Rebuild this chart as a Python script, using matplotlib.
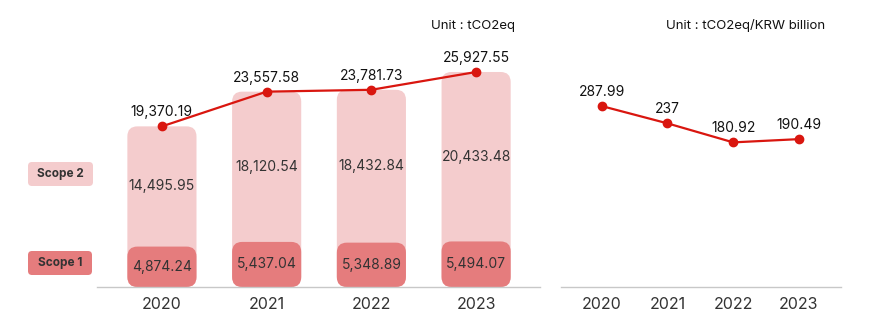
import matplotlib
matplotlib.use("Agg")
import matplotlib.pyplot as plt
from matplotlib.patches import FancyBboxPatch

plt.rcParams['font.family'] = ['Inter', 'DejaVu Sans']

years = ['2020', '2021', '2022', '2023']
scope1 = [4874.24, 5437.04, 5348.89, 5494.07]
scope2 = [14495.95, 18120.54, 18432.84, 20433.48]
totals = [19370.19, 23557.58, 23781.73, 25927.55]
intensity = [287.99, 237, 180.92, 190.49]
intensity_labels = ['287.99', '237', '180.92', '190.49']

C_S2 = '#F4CCCD'
C_S1 = '#E57C7D'
C_LINE = '#D9160F'
C_TXT = '#333333'
C_AX = '#C8C8C8'

W, H = 870, 333
fig = plt.figure(figsize=(W / 100, H / 100), dpi=100)

def px_axes(x0, x1, ytop, ybot):
    return fig.add_axes([x0 / W, (H - ybot) / H, (x1 - x0) / W, (ybot - ytop) / H])

ax1 = px_axes(97, 540, 40, 287)
ax2 = px_axes(561, 841, 40, 287)

for ax in (ax1, ax2):
    for s in ('top', 'right', 'left'):
        ax.spines[s].set_visible(False)
    ax.spines['bottom'].set_color(C_AX)
    ax.spines['bottom'].set_linewidth(1.0)
    ax.set_yticks([])
    ax.tick_params(axis='x', length=0, pad=7, labelsize=11.5, labelcolor=C_TXT)

x = list(range(len(years)))

# ---- left chart ----
ax1.set_xlim(-0.62, 3.61)
ax1.set_ylim(0, 29786)
bw = 0.66
bars_tot = ax1.bar(x, totals, width=bw, color=C_S2)
bars_s1 = ax1.bar(x, scope1, width=bw, color=C_S1)

def round_bars(ax, bars, color, radius_px=10):
    fig.canvas.draw()
    inv = ax.transData.inverted()
    p0 = inv.transform((0, 0))
    p1 = inv.transform((1, 1))
    dx_per_px = p1[0] - p0[0]
    dy_per_px = p1[1] - p0[1]
    aspect = dy_per_px / dx_per_px
    for b in bars:
        b.set_visible(False)
        xx, yy = b.get_x(), b.get_y()
        ww, hh = b.get_width(), b.get_height()
        patch = FancyBboxPatch((xx, yy), ww, hh,
                               boxstyle=f"round,pad=0,rounding_size={radius_px * dx_per_px}",
                               mutation_aspect=aspect, fc=color, ec='none', zorder=2)
        ax.add_patch(patch)

round_bars(ax1, bars_tot, C_S2)
round_bars(ax1, bars_s1, C_S1)

for i in x:
    ax1.text(i, scope1[i] / 2, f"{scope1[i]:,.2f}", ha='center', va='center',
             fontsize=10, color=C_TXT, zorder=4)
    ax1.text(i, scope1[i] + scope2[i] / 2, f"{scope2[i]:,.2f}", ha='center', va='center',
             fontsize=10, color=C_TXT, zorder=4)

ax1.plot(x, totals, color=C_LINE, lw=1.6, marker='o', ms=6, zorder=5, clip_on=False)
for i in x:
    ax1.annotate(f"{totals[i]:,.2f}", (i, totals[i]), xytext=(0, 5), textcoords='offset points',
                 ha='center', va='bottom', fontsize=10, color='#111111', zorder=6)

ax1.set_xticks(x)
ax1.set_xticklabels(years)

# ---- right chart ----
ax2.set_xlim(-0.62, 3.64)
ax2.set_ylim(-245.7, 482.9)
ax2.plot(x, intensity, color=C_LINE, lw=1.6, marker='o', ms=6, zorder=5, clip_on=False)
for i in x:
    ax2.annotate(intensity_labels[i], (i, intensity[i]), xytext=(0, 5), textcoords='offset points',
                 ha='center', va='bottom', fontsize=10, color='#111111')
ax2.set_xticks(x)
ax2.set_xticklabels(years)

# ---- units ----
fig.text(515 / W, 1 - 26 / H, 'Unit : tCO2eq', ha='right', va='center', fontsize=9.5, color='#111111')
fig.text(825 / W, 1 - 26 / H, 'Unit : tCO2eq/KRW billion', ha='right', va='center', fontsize=9.5, color='#111111')

# ---- legend boxes ----
def legend_box(x0, x1, ytop, ybot, color, label):
    bx = FancyBboxPatch((x0 / W, 1 - ybot / H), (x1 - x0) / W, (ybot - ytop) / H,
                        boxstyle=f"round,pad=0,rounding_size={4 / W}",
                        mutation_aspect=W / H, fc=color, ec='none', transform=fig.transFigure)
    fig.add_artist(bx)
    fig.text((x0 + x1) / 2 / W, 1 - (ytop + ybot) / 2 / H, label, ha='center', va='center',
             fontsize=8.5, fontweight='bold', color=C_TXT)

legend_box(28, 93, 162, 186, C_S2, 'Scope 2')
legend_box(28, 92, 251, 275, C_S1, 'Scope 1')

fig.savefig('out.png', dpi=100)
